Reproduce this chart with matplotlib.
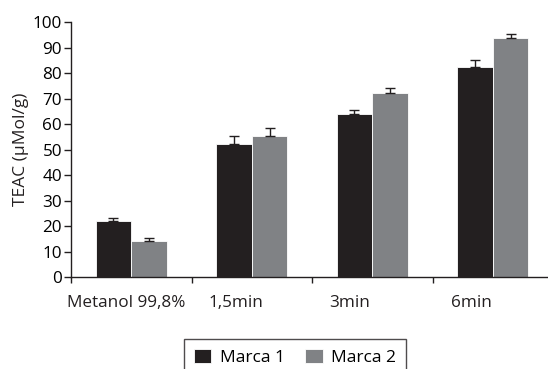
import numpy as np
import matplotlib
matplotlib.use("Agg")
import matplotlib.pyplot as plt

# data
categories = ["Metanol 99,8%", "1,5min", "3min", "6min"]
marca1 = [22.2, 52.2, 64.1, 82.3]
marca1_err = [0.9, 3.0, 1.6, 2.7]
marca2 = [14.3, 55.2, 72.1, 93.6]
marca2_err = [1.1, 3.4, 2.2, 1.7]

plt.rcParams["font.family"] = ["Open Sans", "DejaVu Sans"]

fig = plt.figure(figsize=(5.48, 3.69), dpi=100)
# axes spans slightly past the right edge like the original
ax = fig.add_axes([71 / 548, 1 - 277.3 / 369, 482 / 548, 255.3 / 369])

x = np.arange(len(categories))
w = 0.295
ax.bar(x - w / 2, marca1, w, color="#231f20", edgecolor="white", linewidth=0.6, label="Marca 1")
ax.bar(x + w / 2, marca2, w, color="#808285", edgecolor="white", linewidth=0.6, label="Marca 2")
ax.errorbar(x - w / 2, marca1, yerr=[np.zeros(4), marca1_err], fmt="none",
            ecolor="#231f20", elinewidth=1, capsize=3.5, capthick=1)
ax.errorbar(x + w / 2, marca2, yerr=[np.zeros(4), marca2_err], fmt="none",
            ecolor="#231f20", elinewidth=1, capsize=3.5, capthick=1)

ax.set_xlim(-0.5, 3.5)
ax.set_ylim(0, 100)
ax.set_yticks(range(0, 101, 10))
ax.tick_params(axis="y", direction="out", length=5, width=1, labelsize=12.3, pad=1.5, color="#231f20")
ax.set_ylabel("TEAC (µMol/g)", fontsize=12.5, labelpad=3, color="#231f20")

# boundary tick marks, labels placed separately
ax.set_xticks(np.arange(-0.5, 3.6, 1), minor=True)
ax.tick_params(axis="x", which="minor", direction="out", length=4, width=1, color="#231f20")
ax.set_xticks(x - np.array([0.045, 0.13, 0.19, 0.18]))
ax.set_xticklabels(categories, fontsize=12.3, color="#231f20")
ax.tick_params(axis="x", which="major", length=0, pad=13)

for s in ["top", "right"]:
    ax.spines[s].set_visible(False)
for s in ["left", "bottom"]:
    ax.spines[s].set_color("#231f20")
    ax.spines[s].set_linewidth(1)

leg = ax.legend(loc="upper center", bbox_to_anchor=(295 / 548, 1 - 339 / 369),
                bbox_transform=fig.transFigure, borderaxespad=0, ncol=2, fontsize=12.5,
                frameon=True, fancybox=False, edgecolor="#231f20", handlelength=1.0,
                handleheight=0.9, handletextpad=0.5, columnspacing=1.2, borderpad=0.55)
leg.get_frame().set_linewidth(1)

fig.savefig("out.png", dpi=100)
